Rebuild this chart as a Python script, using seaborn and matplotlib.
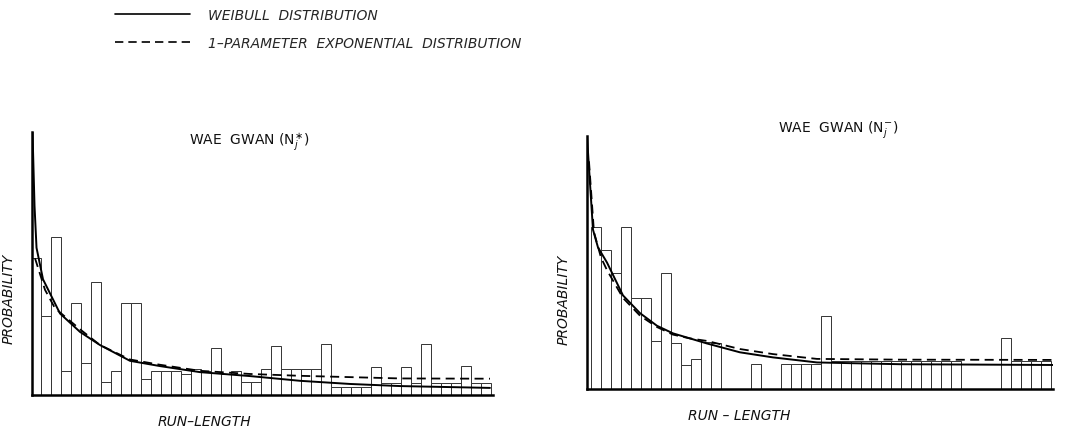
import matplotlib
matplotlib.use("Agg")
import matplotlib.pyplot as plt
from matplotlib.lines import Line2D
import seaborn as sns
import pandas as pd

# run-length histogram, WAE GWAN (Nj+) -- heights relative to axis height
left_prob = [0.52, 0.30, 0.60, 0.09, 0.35, 0.12, 0.43, 0.05, 0.09, 0.35,
             0.35, 0.06, 0.09, 0.09, 0.09, 0.08, 0.10, 0.09, 0.18, 0.08,
             0.09, 0.05, 0.05, 0.10, 0.185, 0.10, 0.10, 0.10, 0.10, 0.195,
             0.03, 0.03, 0.03, 0.03, 0.108, 0.045, 0.045, 0.108, 0.045, 0.195,
             0.045, 0.045, 0.045, 0.11, 0.045, 0.045]

# run-length histogram, WAE GWAN (Nj-)
right_prob = [0.64, 0.55, 0.46, 0.64, 0.36, 0.36, 0.19, 0.46, 0.18, 0.095,
              0.12, 0.185, 0.18, 0.0, 0.0, 0.0, 0.099, 0.0, 0.0, 0.099,
              0.10, 0.10, 0.10, 0.29, 0.11, 0.11, 0.11, 0.11, 0.11, 0.11,
              0.11, 0.11, 0.11, 0.11, 0.11, 0.11, 0.11, 0.0, 0.0, 0.0,
              0.0, 0.20, 0.11, 0.11, 0.11, 0.11]

# fitted curves
left_weib_x = [0.65, 0.85, 1.05, 1.7, 3.4, 5.4, 7.4, 10.4, 13.4, 17.4, 22.4, 27.4, 32.4, 37.4, 46.4]
left_weib_y = [1.0, 0.72, 0.56, 0.44, 0.31, 0.24, 0.19, 0.13, 0.11, 0.087, 0.072, 0.054, 0.042, 0.034, 0.027]
left_exp_x = [0.9, 1.9, 2.9, 5.4, 7.4, 10.4, 13.4, 17.4, 22.4, 27.4, 37.4, 46.4]
left_exp_y = [0.52, 0.40, 0.33, 0.25, 0.19, 0.135, 0.115, 0.092, 0.08, 0.073, 0.063, 0.062]

right_weib_x = [0.1, 0.7, 1.2, 2.1, 3.7, 5.4, 7.1, 8.7, 10.4, 12.1, 15.4, 18.7, 23.1, 31.4, 46.7]
right_weib_y = [1.0, 0.63, 0.56, 0.50, 0.37, 0.30, 0.25, 0.22, 0.20, 0.18, 0.145, 0.125, 0.105, 0.098, 0.095]
right_exp_x = [0.3, 0.8, 1.5, 2.1, 3.7, 5.4, 7.1, 8.7, 10.4, 12.1, 15.4, 18.7, 23.1, 31.4, 46.7]
right_exp_y = [0.9, 0.62, 0.52, 0.47, 0.36, 0.29, 0.245, 0.215, 0.20, 0.19, 0.158, 0.138, 0.119, 0.116, 0.115]

sns.set_theme(style="white")
plt.rcParams['font.family'] = ['DejaVu Sans']

fig = plt.figure(figsize=(10.78, 4.31), dpi=100)
ax1 = fig.add_axes([0.0297, 0.0812, 0.4276, 0.610])
ax2 = fig.add_axes([0.5445, 0.0951, 0.4323, 0.587])

panels = [
    (ax1, left_prob, left_weib_x, left_weib_y, left_exp_x, left_exp_y,
     (0.6, 46.7), "WAE  GWAN (N$_j^{\\ast}$)", (0.47, 0.966), (0.375, -0.072), (-0.035, 0.37), "RUN\u2013LENGTH"),
    (ax2, right_prob, right_weib_x, right_weib_y, right_exp_x, right_exp_y,
     (0.1, 46.7), "WAE  GWAN (N$_j^{-}$)", (0.539, 1.03), (0.326, -0.075), (-0.036, 0.355), "RUN \u2013 LENGTH"),
]

for ax, prob, wx, wy, ex, ey, xlim, title, tpos, xlpos, ylpos, xlab in panels:
    df = pd.DataFrame({"run": list(range(1, len(prob) + 1)), "prob": prob})
    sns.barplot(data=df, x="run", y="prob", native_scale=True, width=1.0,
                color="white", edgecolor="#333333", linewidth=0.7,
                errorbar=None, ax=ax)
    sns.lineplot(x=wx, y=wy, color="black", linewidth=1.4, ax=ax)
    sns.lineplot(x=ex, y=ey, color="black", linewidth=1.3, linestyle=(0, (5, 3)), ax=ax)
    ax.set_xlim(*xlim)
    ax.set_ylim(0, 1.0)
    ax.set_xticks([])
    ax.set_yticks([])
    for s in ["top", "right"]:
        ax.spines[s].set_visible(False)
    for s in ["left", "bottom"]:
        ax.spines[s].set_color("black")
        ax.spines[s].set_linewidth(1.8)
    ax.text(tpos[0], tpos[1], title, transform=ax.transAxes, ha="center", va="center",
            fontsize=10, color="#111111")
    ax.set_xlabel(xlab, fontsize=10, style="italic", color="#111111")
    ax.set_ylabel("PROBABILITY", fontsize=10, style="italic", color="#111111")
    ax.xaxis.set_label_coords(*xlpos)
    ax.yaxis.set_label_coords(*ylpos)

handles = [Line2D([], [], color="black", linewidth=1.2),
           Line2D([], [], color="black", linewidth=1.2, linestyle=(0, (5, 3)))]
fig.legend(handles, ["WEIBULL  DISTRIBUTION", "1\u2013PARAMETER  EXPONENTIAL  DISTRIBUTION"],
           loc="upper left", bbox_to_anchor=(0.1067, 0.98), frameon=False,
           borderpad=0, borderaxespad=0, handlelength=5.4, handletextpad=1.3,
           labelspacing=1.0, prop={"style": "italic", "size": 10})

fig.savefig("out.png", dpi=100, facecolor="white")
